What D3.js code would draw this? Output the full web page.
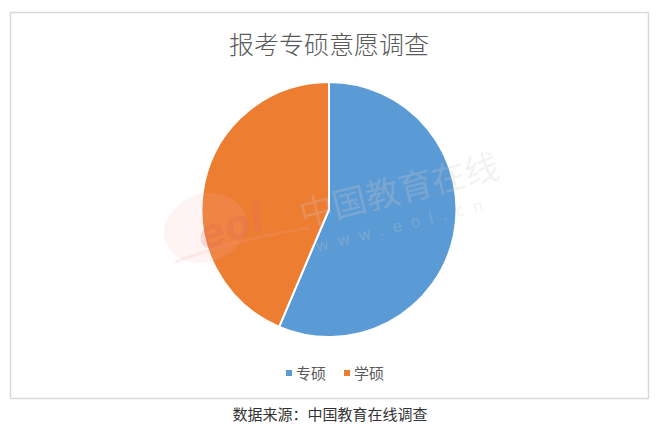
<!DOCTYPE html>
<html>
<head>
<meta charset="utf-8">
<script src="https://cdn.jsdelivr.net/npm/d3@7"></script>
<style>
html,body{margin:0;padding:0;background:#fff;}
svg{display:block;font-family:"Noto Sans CJK SC","Noto Sans",sans-serif;}
</style>
</head>
<body>
<svg id="chart" width="660" height="434"></svg>
<script>
const categories = ["专硕", "学硕"];
const values = [56.4, 43.6];
const colors = ["#5b9bd5", "#ed7d31"];
const title = "报考专硕意愿调查";
const source = "数据来源：中国教育在线调查";

const svg = d3.select("#chart");

// frame
svg.append("rect").attr("x", 10.5).attr("y", 12.5).attr("width", 638).attr("height", 386)
  .attr("fill", "#fff").attr("stroke", "#d9d9d9").attr("stroke-width", 1.5);

// title
svg.append("text").attr("x", 329).attr("y", 54).attr("text-anchor", "middle")
  .attr("font-size", 25).attr("font-weight", 300).attr("fill", "#595959").text(title);

// pie
const cx = 329, cy = 209.5, r = 127.5;
const data = categories.map((c, i) => ({cat: c, value: values[i], color: colors[i]}));
const pie = d3.pie().value(d => d.value).sort(null);
const arc = d3.arc().innerRadius(0).outerRadius(r);
const g = svg.append("g").attr("transform", `translate(${cx},${cy})`);
g.selectAll("path").data(pie(data)).join("path")
  .attr("d", arc).attr("fill", d => d.data.color)
  .attr("stroke", "#fff").attr("stroke-width", 2).attr("stroke-linejoin", "round");

// watermark
const wm = svg.append("g").attr("opacity", 0.5);
wm.append("ellipse").attr("cx", 205).attr("cy", 228).attr("rx", 42).attr("ry", 34)
  .attr("fill", "#f7b3b3").attr("opacity", 0.3).attr("transform", "rotate(-20,205,228)");
wm.append("text").attr("x", 235).attr("y", 240).attr("text-anchor", "middle")
  .attr("font-size", 40).attr("font-weight", 700).attr("font-style", "italic")
  .attr("fill", "#e06a6a").attr("opacity", 0.45)
  .attr("transform", "rotate(-18,235,240)").attr("font-family", "DejaVu Sans").text("eol");
wm.append("path").attr("d", "M175,262 Q240,238 310,228").attr("fill", "none")
  .attr("stroke", "#f2a0a0").attr("stroke-width", 3).attr("opacity", 0.35);
wm.append("text").attr("x", 402).attr("y", 202).attr("text-anchor", "middle")
  .attr("font-size", 34).attr("font-weight", 400).attr("fill", "#d8c8c8").attr("opacity", 0.5)
  .attr("transform", "rotate(-14,402,202)").text("中国教育在线");
wm.append("text").attr("x", 405).attr("y", 230).attr("text-anchor", "middle")
  .attr("font-size", 16).attr("letter-spacing", 9).attr("fill", "#d0c8c8").attr("opacity", 0.5)
  .attr("transform", "rotate(-14,405,230)").attr("font-family", "DejaVu Sans").text("www.eol.cn");

// legend
const legend = svg.append("g");
const legX = [286, 344];
data.forEach((d, i) => {
  legend.append("rect").attr("x", legX[i]).attr("y", 370).attr("width", 6).attr("height", 6).attr("fill", d.color);
  legend.append("text").attr("x", legX[i] + 10).attr("y", 379).attr("font-size", 15)
    .attr("fill", "#595959").text(d.cat);
});

// source
svg.append("text").attr("x", 330).attr("y", 420).attr("text-anchor", "middle")
  .attr("font-size", 15).attr("fill", "#333").text(source);
</script>
</body>
</html>
